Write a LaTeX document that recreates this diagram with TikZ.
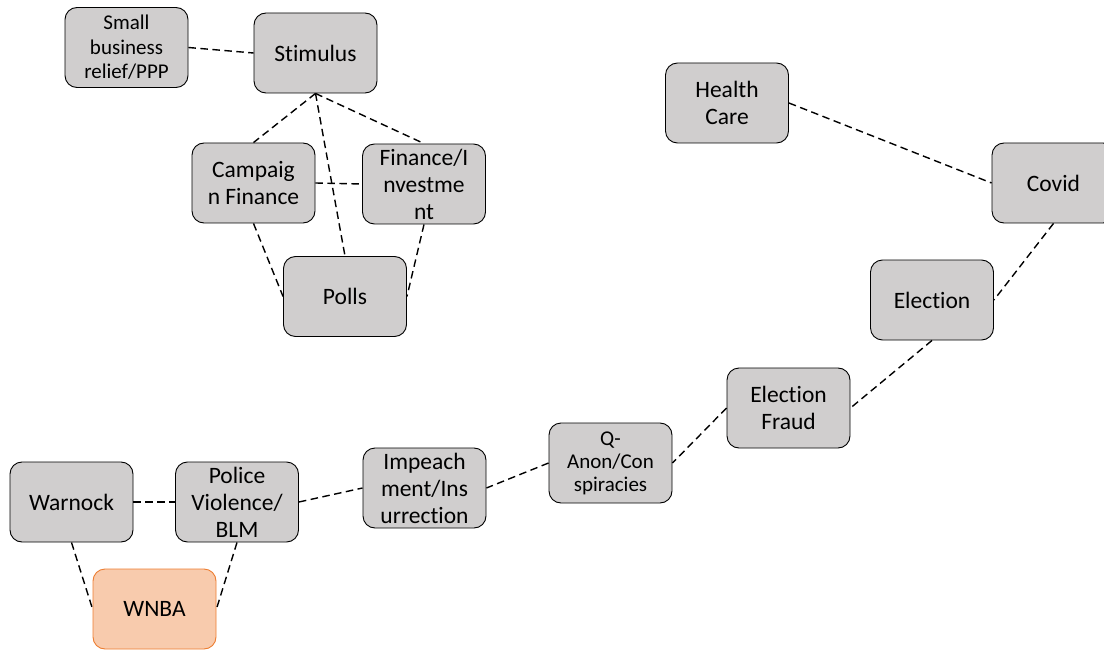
\documentclass[tikz,border=0pt]{standalone}
\usepackage{fontspec}
\setmainfont{Carlito}[Ligatures=CommonOff]
\definecolor{boxgray}{HTML}{D0CECE}
\definecolor{wfill}{HTML}{F8CBAD}
\definecolor{wdraw}{HTML}{ED7D31}
\begin{document}
\begin{tikzpicture}[x=1pt,y=-1pt,
  topic/.style={draw=black, line width=0.9pt, fill=boxgray, rounded corners=12pt,
    minimum width=123pt, minimum height=80pt, inner sep=0pt, align=center,
    font=\fontsize{23.5}{27}\selectfont},
  small/.style={font=\fontsize{21}{24.5}\selectfont},
  hot/.style={topic, draw=wdraw, fill=wfill},
  link/.style={dash pattern=on 7.5pt off 4.5pt, line width=1.4pt}]
\useasboundingbox (0,0) rectangle (1104,650);
\node[topic, small] (sb) at (126.5,47.5) {Small\\business\\relief/PPP};
\node[topic] (stim) at (315.5,53) {Stimulus};
\node[topic] (hc) at (727,103) {Health\\Care};
\node[topic] (cf) at (253.5,183) {Campaig\\n Finance};
\node[topic] (fi) at (424,184) {Finance/I\\nvestme\\nt};
\node[topic] (covid) at (1053.5,183) {Covid};
\node[topic] (polls) at (345,296.5) {Polls};
\node[topic] (elec) at (932,300) {Election};
\node[topic] (ef) at (788.5,408) {Election\\Fraud};
\node[topic, font=\fontsize{21}{23}\selectfont] (qa) at (610.5,463) {Q-\\Anon/Con\\spiracies};
\node[topic] (imp) at (424.5,488) {Impeach\\ment/Ins\\urrection};
\node[topic] (war) at (71.5,502) {Warnock};
\node[topic] (pol) at (237,502) {Police\\Violence/\\BLM};
\node[hot] (wnba) at (154.5,609) {WNBA};
\draw[link] (sb.east) -- (stim.west);
\draw[link] (stim.south) -- (cf.north);
\draw[link] (stim.south) -- (fi.north);
\draw[link] (stim.south) -- (polls.north);
\draw[link] (cf.east) -- (fi.west);
\draw[link] (cf.south) -- (polls.west);
\draw[link] (fi.south) -- (polls.east);
\draw[link] (hc.east) -- (covid.west);
\draw[link] (covid.south) -- (elec.east);
\draw[link] (elec.south) -- (ef.east);
\draw[link] (ef.west) -- (qa.east);
\draw[link] (qa.west) -- (imp.east);
\draw[link] (pol.east) -- (imp.west);
\draw[link] (war.east) -- (pol.west);
\draw[link] (war.south) -- (wnba.west);
\draw[link] (pol.south) -- (wnba.east);
\end{tikzpicture}
\end{document}
